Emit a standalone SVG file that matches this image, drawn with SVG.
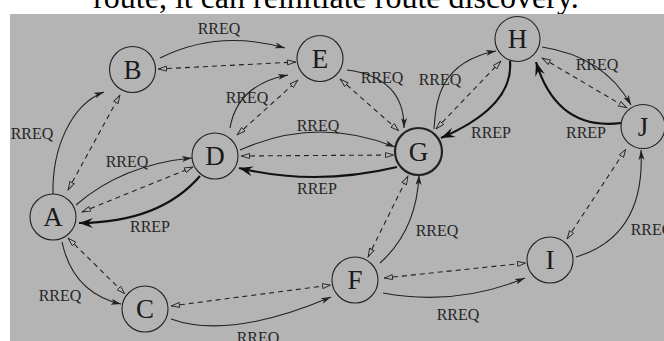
<svg xmlns="http://www.w3.org/2000/svg" width="664" height="341" viewBox="0 0 664 341">
<style>
.bg{fill:#b4b4b4}
.title{font-family:"Liberation Serif","Times New Roman",serif;font-size:32px;fill:#000;text-anchor:middle}
.node circle{fill:none;stroke:#222;stroke-width:1.1}
.node text{font-family:"Liberation Serif","Times New Roman",serif;font-size:27px;fill:#1a1a1a;text-anchor:middle}
.req{fill:none;stroke:#222;stroke-width:1.1;marker-end:url(#ah)}
.dash{fill:none;stroke:#222;stroke-width:1.1;stroke-dasharray:5 4;marker-start:url(#da);marker-end:url(#da)}
.rep{fill:none;stroke:#111;stroke-width:2.2;marker-end:url(#rh)}
.lbl{font-family:"Liberation Serif","Times New Roman",serif;font-size:16px;fill:#262626;text-anchor:middle}
</style>
<defs>
<marker id="ah" markerUnits="userSpaceOnUse" markerWidth="12" markerHeight="8" refX="10" refY="4" orient="auto">
<path d="M0,1 L10,4 L0,7 L2.5,4 z" fill="#222"/>
</marker>
<marker id="da" markerUnits="userSpaceOnUse" markerWidth="11" markerHeight="8" refX="9" refY="4" orient="auto-start-reverse">
<path d="M0.5,1.5 L8.5,4 L0.5,6.5 z" fill="#b4b4b4" stroke="#222" stroke-width="0.9"/>
</marker>
<marker id="rh" markerUnits="userSpaceOnUse" markerWidth="16" markerHeight="12" refX="14" refY="6" orient="auto">
<path d="M0,1 L14,6 L0,11 L5,6 z" fill="#111"/>
</marker>
</defs>
<rect x="0" y="0" width="664" height="341" fill="#fff"/>
<text class="title" x="336" y="8">route, it can reinitiate route discovery.</text>
<rect class="bg" x="10" y="14" width="654" height="327"/>

<g id="connectors">
<!-- B-E -->
<path class="req" d="M160,58 Q218,29 285,48"/>
<path class="dash" d="M158,69 L296,62"/>
<text class="lbl" x="219" y="34">RREQ</text>
<!-- A-B -->
<path class="req" d="M53,194 C52,150 70,105 104,92"/>
<path class="dash" d="M68,190 L120,95"/>
<text class="lbl" x="32" y="139">RREQ</text>
<!-- A-D -->
<path class="req" d="M76,205 Q122.5,164.5 192,158"/>
<path class="dash" d="M82,212 L193,167"/>
<path class="rep" d="M200,176 Q160,222.5 79,223"/>
<text class="lbl" x="127" y="167">RREQ</text>
<text class="lbl" x="150" y="232">RREP</text>
<!-- A-C -->
<path class="req" d="M62,242 Q73,293 121,304"/>
<path class="dash" d="M68,238 L125,294"/>
<text class="lbl" x="60" y="301">RREQ</text>
<!-- C-F -->
<path class="dash" d="M171,306 L331,285"/>
<path class="req" d="M171,319 Q229.5,340 331,297"/>
<text class="lbl" x="258" y="343">RREQ</text>
<!-- F-G -->
<path class="dash" d="M368,257 L408,176"/>
<path class="req" d="M380,263 Q416.5,230.5 419,175"/>
<text class="lbl" x="437" y="236">RREQ</text>
<!-- F-I -->
<path class="dash" d="M384,278 L526,263"/>
<path class="req" d="M383,293 Q456.5,306.5 525,278"/>
<text class="lbl" x="458" y="320">RREQ</text>
<!-- I-J -->
<path class="dash" d="M567,239 L626,149"/>
<path class="req" d="M576,257 Q645.5,236 641,150"/>
<text class="lbl" x="652" y="235">RREQ</text>
<!-- H-J -->
<path class="req" d="M542,47 Q604,56.5 631,105"/>
<path class="dash" d="M542,58 L627,108"/>
<path class="rep" d="M621,123 Q557,131 536,62"/>
<text class="lbl" x="597" y="70">RREQ</text>
<text class="lbl" x="586" y="138">RREP</text>
<!-- G-H -->
<path class="req" d="M434,129 C436,100 440,62 496,51"/>
<path class="dash" d="M436,129 L501,61"/>
<path class="rep" d="M510,61 Q514,106.5 441,138"/>
<text class="lbl" x="440" y="85">RREQ</text>
<text class="lbl" x="491" y="138">RREP</text>
<!-- E-G -->
<path class="req" d="M347,70 Q404.5,77.5 404,128"/>
<path class="dash" d="M340,79 L399,131"/>
<text class="lbl" x="382" y="83">RREQ</text>
<!-- D-E -->
<path class="req" d="M230,128 Q237.5,84.5 288,75"/>
<path class="dash" d="M237,135 L298,80"/>
<text class="lbl" x="247" y="103">RREQ</text>
<!-- D-G -->
<path class="req" d="M240,150 Q317,115.5 395,147"/>
<path class="dash" d="M241,156 L394,155"/>
<path class="rep" d="M397,167 Q315.5,186.5 239,168"/>
<text class="lbl" x="318" y="131">RREQ</text>
<text class="lbl" x="317" y="194">RREP</text>
</g>

<g id="node-A" class="node"><circle cx="53" cy="217" r="23"/><text x="53" y="226">A</text></g>
<g id="node-B" class="node"><circle cx="132.5" cy="69.5" r="23"/><text x="132.5" y="78.5">B</text></g>
<g id="node-C" class="node"><circle cx="145" cy="309" r="23"/><text x="145" y="318">C</text></g>
<g id="node-D" class="node"><circle cx="215" cy="156" r="23"/><text x="215" y="165">D</text></g>
<g id="node-E" class="node"><circle cx="320" cy="58.5" r="23"/><text x="320" y="67.5">E</text></g>
<g id="node-F" class="node"><circle cx="355" cy="280" r="23"/><text x="355" y="289">F</text></g>
<g id="node-G" class="node"><circle cx="418.5" cy="151.5" r="23.5" style="stroke-width:2.2"/><text x="418.5" y="160.5">G</text></g>
<g id="node-H" class="node"><circle cx="517.5" cy="39" r="22.5"/><text x="517.5" y="48">H</text></g>
<g id="node-I" class="node"><circle cx="550" cy="260" r="23"/><text x="550" y="269">I</text></g>
<g id="node-J" class="node"><circle cx="643" cy="126.5" r="22"/><text x="643" y="135.5">J</text></g>
</svg>
